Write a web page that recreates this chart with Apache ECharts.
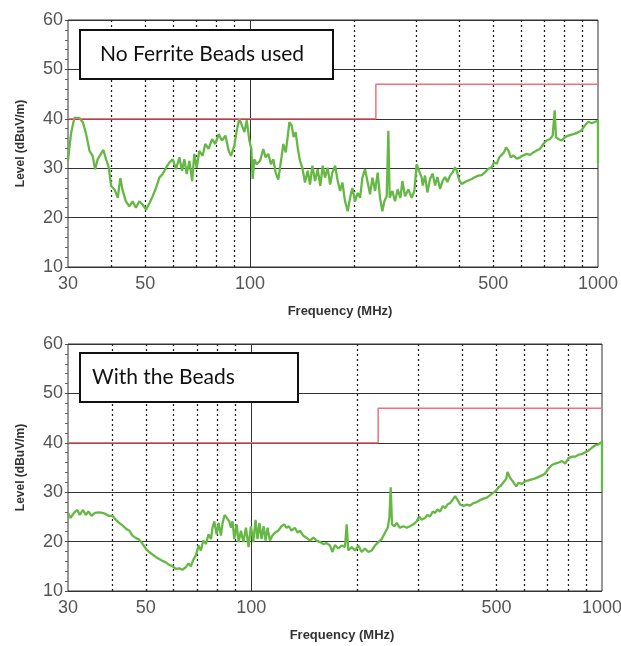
<!DOCTYPE html>
<html lang="en">
<head>
<meta charset="utf-8" />
<title>Radiated emission - ferrite beads</title>
<script src="https://cdn.jsdelivr.net/npm/echarts@6/dist/echarts.min.js"></script>
<style>
  html, body { margin: 0; padding: 0; background: #fff; }
  #main { width: 621px; height: 646px; }
</style>
</head>
<body>
<div id="main"></div>
<script>
// [frequency MHz, level dBuV/m]
var noBeads = [
  [30,31.5],[30.6,37],[31.3,40.2],[32.3,40.2],[33.1,39.3],[33.8,37],[34.6,33.5],[35.3,32.5],[35.9,29.8],[36.5,31.8],
  [37.3,32.9],[37.9,33.7],[38.6,31.8],[39.3,30.1],[39.9,26.4],[40.8,25.7],[41.7,24],[42.4,28],[43.1,25.4],[44,23.3],
  [45,22.3],[46,23.3],[47,22],[48.1,23.3],[49.2,22.6],[50.3,21.6],[51.4,22.9],[52.5,24.3],[53.7,26],[54.9,28.1],
  [56.1,28.8],[57.4,30.1],[58.7,31.2],[60,31.8],[61.3,29.8],[62.7,32.2],[63.8,29.5],[64.8,31.8],[65.8,28.8],[67,31.5],
  [68.2,27.4],[69.2,32.9],[70.3,30.1],[71.5,33.5],[73.1,32.5],[74.4,34.9],[76.1,33.9],[77.8,35.9],[79.5,34.9],[81.3,36.9],
  [83.1,35.6],[85,36.6],[86.9,33.5],[88.2,32.5],[90.2,34.6],[91.6,37.6],[93.2,40],[94.9,38.6],[96.4,37.3],[97.9,39.7],
  [99.6,35.6],[100.9,33.9],[101.8,27.8],[102.9,31.8],[104.5,30.8],[106.9,31.5],[109.2,33.9],[110.9,32.2],[112.9,32.9],
  [114.9,30.8],[116.7,31.8],[118.5,29.1],[120.6,27.7],[122.8,31.5],[124.7,34.9],[126.7,33.2],[128.3,36.3],[129.8,39.3],
  [131.8,38.6],[133.5,36.3],[135.3,37.3],[137.1,34.2],[139.2,31.5],[141.4,30.1],[143.9,27.1],[146.5,29.5],[148.8,26.7],
  [151.1,30.5],[153.8,27.4],[156.5,29.8],[159.3,26.4],[161.8,30.5],[164.3,28.1],[167.2,30.1],[169.9,26.7],[172.5,29.1],
  [175.6,30.5],[178.7,27.4],[181.5,25.4],[184.3,27.1],[187.6,23.3],[190.9,21.3],[193.9,24],[196.9,26],[200.4,23.3],
  [204,25],[207.2,24],[210.4,28.1],[214.1,29.8],[217.9,27.1],[221.3,24.7],[224.8,28.1],[228.8,25.4],[232.8,29.1],
  [236.4,24],[240.1,21.3],[243.3,23.3],[247.1,24.3],[249.8,37.6],[252,24],[256.5,25.4],[261.1,23.3],[265.7,25.7],
  [270.5,24],[274.1,27.4],[279,24.3],[285.2,25.7],[291.5,24],[296.7,25.4],[301.3,30.8],[305.9,29.5],[311.4,28.1],
  [313.6,26.5],[318.4,28.5],[323.3,25.1],[329.1,27.8],[335,28.9],[340.3,26.5],[345.6,28.2],[351.7,25.8],[357.9,27.5],
  [363.5,28.2],[369.2,27.2],[375.8,28.5],[382.5,29.2],[388.4,30.2],[392.7,29.5],[399.6,27.5],[405.8,26.8],[414.8,27.2],
  [424.1,27.5],[433.6,27.8],[443.3,28.2],[453.2,28.5],[463.4,28.6],[473.7,29.2],[484.3,29.9],[495.1,30.2],[502.7,31.2],
  [511.6,30.9],[520.7,32.2],[528.8,32.7],[537,33.2],[544.2,34.2],[552.7,33.6],[561.3,32.2],[571.3,32.6],[584.1,31.9],
  [597.1,32.2],[610.3,32.6],[623.9,32.9],[637.8,32.7],[652,33.2],[666.5,33.6],[681.3,33.9],[696.5,34.9],[712,35.6],
  [727.9,35.9],[740.9,36.6],[750.8,41.7],[757.4,36.3],[769.2,35.9],[786.4,35.6],[803.9,36.3],[821.9,36.6],[840.2,36.8],
  [859.1,37],[878.2,37.3],[897.8,37.7],[917.8,38.7],[938.3,39.4],[959.2,39.1],[980.6,39.4],[1000,39.6],[1000,31]
];

var withBeads = [
  [30,25.8],[30.5,24.8],[31.2,25.8],[31.9,26.4],[32.4,25.4],[33.1,26.4],[33.7,25.4],[34.3,26.1],[35,25.2],[35.8,25.8],
  [36.7,25.9],[37.6,25.8],[38.4,25.6],[39.3,25.2],[40.2,25.2],[41.1,24.4],[42,23.8],[42.9,23.3],[43.9,22.6],[44.9,22.2],
  [45.8,21.2],[46.9,20.7],[47.9,20.4],[49,19.5],[50,18.6],[51.1,17.9],[52.2,17.4],[53.4,16.9],[54.6,16.5],[55.8,16.1],
  [57,15.8],[58.3,15.3],[59.6,15],[60.9,14.5],[62.3,14.6],[63.6,14.3],[65,14.8],[66.2,15.6],[67.2,15],[68.3,16.3],
  [69.5,17.3],[70.7,19.2],[71.8,18.2],[72.9,20.2],[74.2,19.5],[75.5,21.5],[76.7,20.5],[77.5,22.8],[78.4,24.1],[79.6,21.5],
  [80.7,23.8],[81.9,21.2],[82.8,23.8],[83.9,25.4],[85,25.1],[86.5,24.1],[87.5,22.8],[88.4,24.1],[89.4,20.5],[90.8,23.5],
  [92,19.9],[93.4,22.2],[94.9,19.9],[96.5,22.8],[98.2,18.9],[99.7,23.1],[101.3,19.9],[102.8,24.4],[104.1,20.5],[105.5,23.8],
  [106.9,20.5],[108.4,23.1],[109.8,20.2],[111.2,22.8],[113,20.2],[114.7,21.2],[116.7,21.8],[119.3,22.2],[121.9,23.1],
  [124.1,23.5],[126,22.8],[128,23.1],[130.2,22.2],[133.1,22.8],[135.5,21.8],[137.6,22.2],[140.6,21.2],[143.7,20.8],
  [146.9,20.2],[150.2,20.8],[153.5,20.2],[156.9,19.9],[160.4,19.5],[163.9,19.7],[167.6,19.2],[170.2,17.9],[173.2,19.3],
  [177,18.6],[180.9,19.2],[184.9,18.9],[187,23.5],[189,18.2],[193.2,18.9],[197.5,18.2],[201.9,19.2],[206.4,17.9],
  [210.9,18.6],[215.6,17.9],[220.4,18.2],[225.2,19.2],[230.2,19.9],[235.3,20.5],[240.5,21.8],[244.8,22.8],[247.5,24.8],
  [249.7,31],[251.9,23.5],[255.8,23.1],[259.7,23.8],[265.4,22.8],[271.4,23.1],[277.4,22.8],[283.5,23.1],[289.8,23.5],
  [296.2,24.1],[300.8,25.1],[306.1,24.4],[312.8,24.8],[317.6,25.4],[323.3,25.1],[329.2,26.1],[334.2,25.8],[339.4,26.5],
  [345.4,26.1],[351.5,27.2],[357,26.8],[362.5,27.5],[368.9,27.8],[375.4,28.5],[381.2,29.2],[387,28.5],[393.9,27.5],
  [402.6,27.2],[411.5,27.5],[420.6,27.3],[429.9,27.8],[439.5,28],[449.2,28.4],[459.1,28.7],[469.3,28.9],[479.7,29.4],
  [490.3,29.9],[499,30.3],[506.7,31],[514.6,31.3],[523.7,32],[532.9,32.7],[537.6,34.1],[542.4,33.4],[549.5,32.7],
  [559.2,32],[569.1,31.2],[578,31.9],[590.8,31.7],[603.8,32.2],[617.2,32.4],[630.9,32.6],[645,32.8],[659.2,33.1],
  [673.8,33.4],[688.8,33.8],[703.9,34.8],[719.5,35.5],[735.4,35.8],[751.7,36],[768.3,36.3],[785.4,35.8],[802.8,36.9],
  [820.6,37.2],[838.8,37.2],[857.4,37.6],[876.3,37.7],[895.6,38.1],[915.4,38.4],[935.6,39],[956.3,39.5],[977.5,39.7],
  [1000,40.2],[1000,30.3]
];

var limitLine = [[30,40],[230,40],[230,47],[1000,47]];
var freqLabels = [30, 50, 100, 500, 1000];
var solidFreqs = [100];
var dottedFreqs = [40, 50, 60, 70, 80, 90, 200, 300, 400, 500, 600, 700, 800, 900];
var boxTexts = ['No Ferrite Beads used', 'With the Beads'];
var traces = [noBeads, withBeads];

var grids = [
  {left: 68, top: 20, width: 530, height: 247},
  {left: 68, top: 344, width: 534, height: 247}
];

var labelFont = 'Arial';
var xAxes = [], yAxes = [], series = [], graphics = [];

grids.forEach(function (g, i) {
  g.show = true;
  g.borderColor = '#333';
  g.borderWidth = 1;
  g.backgroundColor = '#fff';
  g.outerBoundsMode = 'none';

  // labels + the solid 100 MHz line
  xAxes.push({
    gridIndex: i, type: 'log', logBase: 10, min: 30, max: 1000, position: 'bottom',
    name: 'Frequency (MHz)', nameLocation: 'middle', nameGap: 38,
    nameTextStyle: {fontFamily: labelFont, fontWeight: 'bold', fontSize: 13, color: '#333', padding: [0, 0, 0, 14]},
    axisLine: {show: false},
    axisTick: {show: false, customValues: solidFreqs},
    axisLabel: {customValues: freqLabels, fontSize: 18, color: '#555', margin: 8, fontFamily: labelFont,
      formatter: function (v) { return Math.round(v); }},
    splitLine: {show: true, lineStyle: {color: '#333', width: 1}}
  });
  // dotted decade sub-lines
  xAxes.push({
    gridIndex: i, type: 'log', logBase: 10, min: 30, max: 1000, position: 'top',
    axisLine: {show: false},
    axisTick: {show: false, customValues: dottedFreqs},
    axisLabel: {show: false},
    splitLine: {show: true, lineStyle: {color: '#222', width: 1.3, type: [2, 3]}}
  });

  yAxes.push({
    gridIndex: i, type: 'value', min: 10, max: 60, interval: 10,
    name: 'Level (dBuV/m)', nameLocation: 'middle', nameGap: 41,
    nameTextStyle: {fontFamily: labelFont, fontWeight: 'bold', fontSize: 12, color: '#333'},
    axisLine: {show: false},
    axisTick: {show: true, length: 3, lineStyle: {color: '#555'}},
    minorTick: {show: true, splitNumber: 5, length: 3, lineStyle: {color: '#666'}},
    axisLabel: {fontSize: 18, color: '#555', margin: 5, fontFamily: labelFont},
    splitLine: {show: true, lineStyle: {color: '#333', width: 1}}
  });

  series.push({
    type: 'line', xAxisIndex: i * 2, yAxisIndex: i, data: traces[i],
    symbol: 'none', z: 3,
    lineStyle: {color: '#66b845', width: 2.3}
  });
  series.push({
    type: 'line', xAxisIndex: i * 2, yAxisIndex: i, data: limitLine,
    symbol: 'none', z: 4,
    lineStyle: {color: '#f0707c', width: 1.5}
  });
});

// caption boxes
var boxes = [
  {x: 80, y: 30, w: 253, h: 49, pad: 20},
  {x: 80, y: 353, w: 218, h: 49, pad: 12}
];
boxes.forEach(function (b, i) {
  graphics.push({
    type: 'rect', z: 10,
    shape: {x: b.x, y: b.y, width: b.w, height: b.h},
    style: {fill: '#fff', stroke: '#111', lineWidth: 2}
  });
  graphics.push({
    type: 'text', z: 11, x: b.x + b.pad, y: b.y + b.h / 2,
    style: {text: boxTexts[i], font: '21px Lato', fill: '#111', verticalAlign: 'middle'}
  });
});

var myChart = echarts.init(document.getElementById('main'));
myChart.setOption({
  animation: false,
  backgroundColor: '#fff',
  grid: grids,
  xAxis: xAxes,
  yAxis: yAxes,
  series: series,
  graphic: graphics
});
</script>
</body>
</html>
